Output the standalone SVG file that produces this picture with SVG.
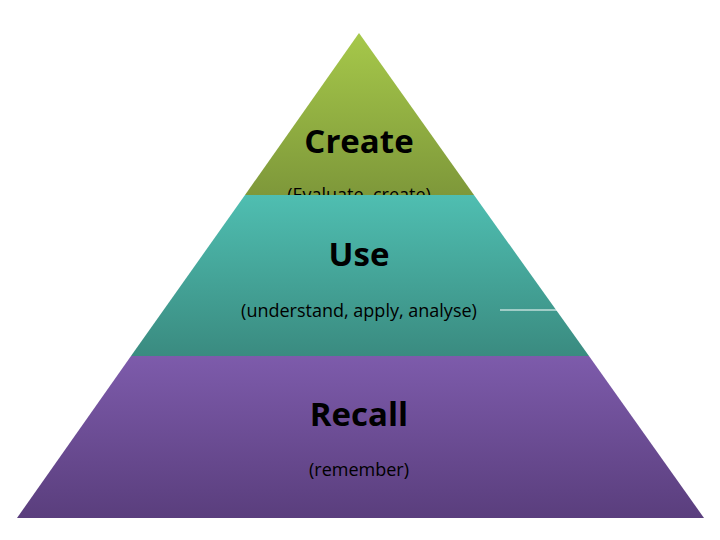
<svg xmlns="http://www.w3.org/2000/svg" width="720" height="540" viewBox="0 0 720 540">
<defs>
<linearGradient id="g1" x1="0" y1="0" x2="0" y2="1"><stop offset="0" stop-color="#a6c84a"/><stop offset="1" stop-color="#7e983a"/></linearGradient>
<linearGradient id="g2" x1="0" y1="0" x2="0" y2="1"><stop offset="0" stop-color="#4fbeb1"/><stop offset="1" stop-color="#3a8b80"/></linearGradient>
<linearGradient id="g3" x1="0" y1="0" x2="0" y2="1"><stop offset="0" stop-color="#7d5bab"/><stop offset="1" stop-color="#5a3e7d"/></linearGradient>
<style>text{font-family:"Open Sans","Liberation Sans",sans-serif;fill:#000;text-anchor:middle}.t{font-weight:bold;font-size:33px}.s{font-size:18px}</style>
</defs>
<rect width="720" height="540" fill="#fff"/>
<g id="top"><polygon points="359,33 245,195 474,195" fill="url(#g1)"/>
<text class="t" x="359" y="153">Create</text><text class="s" x="359" y="201">(Evaluate, create)</text></g>
<g id="middle"><polygon points="245,195 474,195 589,356 131,356" fill="url(#g2)"/>
<text class="t" x="359" y="266">Use</text><text class="s" x="359" y="317">(understand, apply, analyse)</text>
<line x1="500" y1="310" x2="557" y2="310" stroke="#fff" stroke-width="1.2"/></g>
<g id="bottom"><polygon points="131,356 589,356 704,518 17,518" fill="url(#g3)"/>
<text class="t" x="359" y="426">Recall</text><text class="s" x="359" y="476">(remember)</text></g>
</svg>
